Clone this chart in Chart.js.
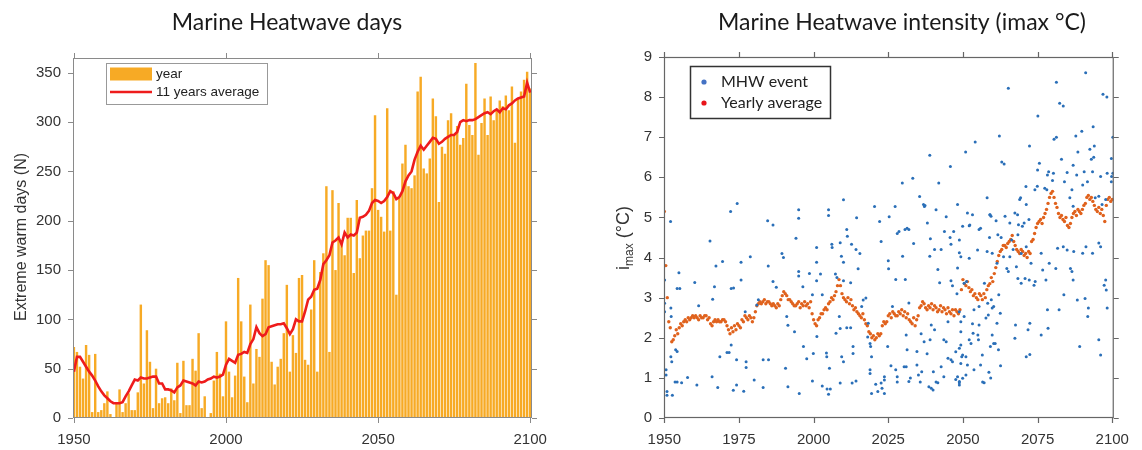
<!DOCTYPE html>
<html lang="en">
<head>
<meta charset="UTF-8">
<title>Marine Heatwave</title>
<script src="https://cdn.jsdelivr.net/npm/chart.js@4.4.0/dist/chart.umd.min.js"></script>
<style>
  html, body { margin: 0; padding: 0; background: #fff; }
  #wrap { position: relative; width: 1142px; height: 450px; }
  .panel { position: absolute; top: 0; height: 450px; }
  #left { left: 0; width: 570px; }
  #right { left: 570px; width: 572px; }
</style>
</head>
<body>
<div id="wrap">
  <div class="panel" id="left"><canvas id="cDays" width="570" height="450"></canvas></div>
  <div class="panel" id="right"><canvas id="cInt" width="572" height="450"></canvas></div>
</div>
<script>
// ---------- left panel: extreme warm days per year, 1950..2100 ----------
const firstYear = 1950;
const warmDays = [
  72, 67, 52, 40, 74, 64, 6, 65, 6, 8,
  15, 27, 4, 1, 16, 29, 6, 15, 25, 8,
  8, 26, 115, 35, 89, 57, 10, 50, 15, 20,
  21, 15, 30, 18, 56, 5, 58, 13, 13, 60,
  48, 86, 10, 22, 0, 5, 38, 67, 45, 22,
  98, 47, 21, 43, 142, 98, 42, 16, 115, 35,
  70, 62, 121, 160, 155, 57, 34, 52, 60, 86,
  135, 47, 84, 66, 142, 145, 59, 54, 110, 160,
  47, 148, 167, 235, 67, 231, 150, 218, 180, 165,
  203, 203, 147, 221, 162, 185, 190, 190, 233, 307,
  211, 204, 189, 314, 190, 230, 125, 223, 258, 277,
  235, 233, 246, 331, 346, 253, 248, 263, 324, 306,
  219, 275, 268, 302, 309, 287, 296, 277, 284, 339,
  297, 287, 360, 267, 299, 324, 287, 326, 302, 312,
  322, 316, 327, 312, 336, 279, 324, 331, 343, 351,
  334
];
const warmDaysAvg11 = [
  47, 62, 62, 57, 52, 47, 43, 38, 32, 27,
  23, 20, 17, 15, 15, 15, 16, 22, 27, 33,
  39, 38, 41, 40, 40, 41, 42, 42, 35, 35,
  29, 29, 28, 26, 31, 33, 38, 37, 36, 35,
  33, 37, 36, 37, 39, 40, 42, 41, 42, 44,
  54, 60, 58, 56, 64, 65, 67, 66, 75, 80,
  92, 86, 83, 85, 92, 93, 94, 95, 95, 96,
  91, 85, 90, 100, 98, 98, 108, 120, 123, 130,
  131, 140, 156, 160, 165, 178, 180, 183, 176, 188,
  183, 186, 185, 188, 203, 204, 206, 210, 218, 221,
  220, 218, 220, 224, 230, 228, 222, 224, 230, 240,
  246, 250, 262, 270, 276, 272, 276, 280, 284, 283,
  278, 280, 283, 285, 287, 287, 290, 300, 302, 301,
  302, 302, 303, 305, 307, 309, 310, 308, 311, 313,
  310, 314, 313, 317, 319, 322, 324, 325, 326, 340,
  330
];
const daysXTicks = [1950, 2000, 2050, 2100];
const daysYTicks = [0, 50, 100, 150, 200, 250, 300, 350];

// ---------- right panel: MHW intensity ----------
// individual events [year, imax]
const mhwEvents = [
  [1950.1,3.44],[1950.1,2.86],[1950.1,2.65],[1950.6,1.2],[1950.6,1.07],[1950.9,0.66],[1950.9,0.57],
  [1952.1,4.9],[1952.2,2.74],[1952.3,2.53],[1952.2,1.53],[1952.5,1.4],[1952.7,0.57],[1953.8,1.7],
  [1954.3,1.66],[1953.6,0.9],[1954.3,0.9],[1954.9,3.62],[1954.3,3.23],[1955.2,3.23],[1955.8,0.88],
  [1957.8,1.01],[1960.2,3.38],[1960.9,0.82],[1961.5,2.8],[1965.3,4.41],[1966.2,2.96],[1966,1.03],
  [1967.3,3.79],[1966.8,3.27],[1967.9,0.76],[1969.5,3.9],[1968.6,1.53],[1971,1.63],[1971.7,1.63],
  [1972.2,5.15],[1972.4,3.23],[1973.2,3.24],[1972.4,1.82],[1973.1,0.69],[1974.2,1.45],[1974.2,0.82],
  [1974.4,5.35],[1975.7,3.88],[1975.7,3.44],[1976.6,0.67],[1977.4,1.4],[1977.4,1.26],[1977.1,2.65],
  [1978.8,4.02],[1980.1,0.95],[1981,2.82],[1981.5,2.95],[1983.1,0.76],[1983.1,1.45],[1984.6,4.92],
  [1984.8,3.79],[1984.9,1.45],[1986.4,4.81],[1986.4,3.4],[1987.5,3.26],[1989.4,4.1],[1989.9,4.0],
  [1990.6,1.24],[1991,2.53],[1991.4,2.31],[1991.4,0.78],[1993.6,2.15],[1994.1,4.48],[1995,5.19],
  [1995,4.98],[1995,3.65],[1995,3.54],[1995.2,0.61],[1996.4,3.27],[1996.6,1.78],[1997.7,1.48],
  [1998.6,3.6],[1999.6,0.92],[1999.6,3.07],[1999.9,1.61],
  [2005.0,5.19],[2005.0,5.05],[2010.0,5.44],[2001.0,4.25],[2001.0,3.88],[2001.0,3.42],[2002.3,3.59],
  [2002.9,3.07],[2001.1,2.03],[2002.9,0.8],[2004.5,0.72],[2005.0,0.59],[2005.6,0.72],[2006.1,4.33],
  [2006.2,4.25],[2004.3,1.62],[2004.4,1.53],[2005.3,1.24],[2007.3,3.59],[2007.8,3.5],[2008.9,4.37],
  [2009.3,4.03],[2010.0,3.88],[2011.1,4.7],[2011.3,4.53],[2012.7,4.33],[2014.4,4.99],[2014.2,4.2],
  [2014.9,3.72],[2015.5,4.1],[2012.4,3.37],[2010.0,3.42],[2008.6,2.53],[2007.5,2.11],[2008.9,2.23],
  [2011.1,2.25],[2012.4,2.25],[2009.4,1.53],[2010.0,1.4],[2008.9,0.87],[2013.2,1.78],[2013.2,1.61],
  [2012.9,0.87],[2014.2,0.92],[2016.1,2.78],[2016.6,2.94],[2017.5,2.99],[2018.3,2.36],[2018.1,2.02],
  [2018.9,1.86],[2019.1,1.78],[2019.4,1.53],[2018.9,1.2],[2018.9,1.11],[2019.4,0.61],[2020.4,5.27],
  [2020.8,0.84],[2021.5,0.66],[2022.6,0.87],[2022.1,4.9],[2022.6,4.4],[2023.7,0.61],[2022.9,0.74],
  [2023.7,1.03],[2023.7,0.95],[2025.0,3.92],[2025.3,5.02],[2027.3,5.27],[2025.1,3.72],[2026.4,2.78],
  [2024.8,1.78],[2025.9,1.3],[2027.5,1.2],[2028.0,0.9],[2028.0,1.03],[2029.7,5.86],[2028.0,4.6],
  [2028.6,4.65],[2030.6,4.7],[2031.3,4.73],[2031.9,4.7],[2029.8,4.03],[2030.7,3.45],[2027.5,3.45],
  [2031.9,2.87],[2031.0,2.07],[2030.3,1.28],[2031.0,1.28],[2031.3,1.7],[2031.9,0.91],[2032.4,1.0],
  [2033.2,5.98],[2033.5,4.35],[2034.6,1.66],[2034.6,1.32],[2035.1,1.07],[2035.7,0.9],[2036.2,1.15],
  [2035.5,5.52],[2036.8,5.32],[2037.1,5.27],[2038.1,4.86],[2038.6,0.78],[2039.4,0.74],[2039.0,1.95],
  [2039.4,2.32],[2038.9,4.03],[2039.1,4.47],[2040.5,4.2],[2041.0,5.19],[2041.9,5.86],[2042.7,4.2],
  [2041.6,3.7],[2042.2,3.37],[2040.5,2.2],[2041.6,0.88],[2042.7,1.28],[2043.6,1.95],[2043.8,4.65],
  [2044.4,5.02],[2045.8,6.27],[2045.7,4.5],[2046.0,4.33],[2046.9,4.65],[2048.2,5.32],[2046.0,3.42],
  [2046.5,3.3],[2048.2,3.74],[2048.8,4.12],[2048.0,3.1],[2045.0,2.4],[2044.4,1.9],[2045.0,1.49],
  [2046.0,1.45],[2046.5,1.4],[2047.6,1.65],[2047.6,0.96],[2048.2,1.03],[2048.8,0.91],[2049.3,2.4],
  [2049.3,2.15],[2049.3,1.82],[2049.6,1.53],[2048.8,0.88],[2036.0,2.1],[2037.0,1.9],[2038.0,1.6],
  [2040.1,1.15],[2041.0,0.9],[2043.6,1.03],[2040.0,0.7],[2038.9,6.55],[2037.3,5.3],
  [2065.2,8.22],[2091.1,8.61],[2081.3,8.37],[2082.4,7.85],[2083.6,7.78],[2096.9,8.07],[2098.2,8.0],
  [2075.1,7.53],[2062.2,7.03],[2080.5,6.95],[2081.3,7.0],[2087.8,7.03],[2089.8,7.15],[2093.6,7.26],
  [2054.1,6.88],[2050.9,6.63],[2063.0,6.38],[2063.8,6.33],[2072.3,6.78],[2083.0,6.45],[2092.5,6.7],
  [2093.0,6.45],[2093.8,6.5],[2094.0,6.78],[2084.0,5.89],[2086.9,6.3],[2088.5,6.63],[2090.6,6.14],
  [2091.7,5.89],[2093.4,6.14],[2096.1,6.02],[2098.3,6.1],[2099.7,5.89],[2099.8,6.02],[2099.7,6.47],
  [2075.6,6.35],[2075.0,6.18],[2078.3,6.06],[2078.7,6.14],[2080.0,5.92],[2071.1,5.77],[2077.4,5.73],
  [2078.1,5.69],[2080.3,6.1],[2084.9,6.12],[2086.5,5.69],[2088.1,6.06],[2085.8,5.49],[2086.9,5.28],
  [2090.1,5.81],[2094.3,5.49],[2095.5,5.53],[2096.6,5.32],[2097.8,5.45],[2069.0,5.45],[2071.2,5.32],
  [2074.1,5.69],[2074.9,5.78],[2067.4,5.11],[2068.3,5.07],[2070.5,4.86],[2072.1,4.95],[2068.6,4.82],
  [2069.9,4.78],[2059.0,5.07],[2059.4,5.03],[2051.5,5.11],[2053.2,5.07],[2049.9,4.78],[2052.1,4.79],
  [2055.4,4.7],[2055.9,4.73],[2058.1,5.49],[2048.8,4.44],[2064.1,5.03],[2065.7,4.86],[2066.3,4.44],
  [2061.7,4.57],[2062.8,4.5],[2061.1,4.92],[2064.7,3.73],[2065.2,3.65],[2068.4,3.48],[2067.9,3.77],
  [2069.5,3.36],[2070.8,3.48],[2072.2,3.44],[2073.8,3.31],[2074.2,3.4],[2072.8,3.86],[2069.5,4.1],
  [2071.2,4.27],[2076.2,4.11],[2078.9,3.86],[2081.1,3.73],[2076.7,3.69],[2077.8,3.44],[2081.7,4.23],
  [2083.6,4.27],[2083.8,3.07],[2084.9,4.19],[2086.0,3.73],[2086.5,3.65],[2086.9,3.44],[2087.1,4.15],
  [2090.1,4.11],[2091.2,4.27],[2093.4,4.11],[2095.5,4.36],[2096.1,4.27],[2097.3,3.31],[2098.0,3.19],
  [2097.8,3.44],[2088.3,2.94],[2090.9,2.98],[2092.0,2.74],[2082.2,2.7],[2078.3,2.7],[2078.5,2.24],
  [2076.2,2.07],[2072.4,2.36],[2071.8,2.2],[2071.2,1.53],[2072.4,1.58],[2067.4,1.99],[2067.6,2.32],
  [2062.6,1.3],[2059.3,1.0],[2057.1,0.88],[2056.6,0.9],[2058.7,1.14],[2089.1,1.78],[2091.8,2.53],
  [2095.5,1.95],[2096.1,1.57],[2098.3,2.74],[2053.2,2.35],[2053.7,2.7],[2055.4,2.78],[2053.4,2.11],
  [2055.0,2.07],[2055.2,1.95],[2052.1,1.95],[2052.7,1.86],[2051.0,1.53],[2049.9,1.57],[2051.5,1.32],
  [2053.7,1.2],[2055.9,1.32],[2059.2,1.78],[2060.3,1.86],[2060.8,1.86],[2061.9,1.7],[2059.8,2.07],
  [2061.4,2.36],[2062.5,2.61],[2059.8,2.74],[2057.7,2.49],[2055.4,2.32],[2058.3,2.86],[2060.3,2.78],
  [2062.0,3.07],[2059.5,2.95],[2057.2,3.36],[2058.5,2.57],[2050.4,2.53],[2048.8,2.65],[2050.4,3.36],
  [2051.2,3.4],[2049.3,4.02],[2052.1,3.98],[2052.3,4.81],[2054.9,4.19],[2058.1,4.15],[2058.9,4.5],
  [2059.8,4.11],[2061.4,3.86],[2063.6,4.02],[2065.7,4.02],[2066.8,4.2],[2068.4,4.57],[2069.3,5.49],
  [2059.1,5.07],[2048.8,1.74],[2049.3,1.36],[2048.8,0.82],[2051.0,1.07],[2049.9,0.99],[2056.5,1.57],
  [2100.2,7.0],[2100.2,6.1]
];
// yearly average, two readings per year from 1950
const yearlyAvgStep = 0.5;
const yearlyAvg = [
  5.15,3.8, 3.0,2.4, 2.25,1.9, 1.95,2.05, 2.2,2.1,
  2.25,2.35, 2.3,2.4, 2.45,2.4, 2.5,2.45, 2.5,2.55,
  2.5,2.55, 2.5,2.45, 2.55,2.5, 2.5,2.55, 2.55,2.45,
  2.5,2.35, 2.3,2.4, 2.45,2.4, 2.45,2.4, 2.4,2.45,
  2.45,2.4, 2.3,2.2, 2.1,2.25, 2.15,2.3, 2.2,2.35,
  2.3,2.25, 2.45,2.4, 2.55,2.5, 2.45,2.55, 2.5,2.4,
  2.5,2.65, 2.8,2.85, 2.9,2.85, 2.9,2.95, 2.85,2.9,
  2.9,2.85, 2.8,2.85, 2.8,2.75, 2.85,2.8, 2.95,3.05,
  3.15,3.1, 3.05,2.95, 2.95,2.9, 2.85,2.8, 2.8,2.85,
  2.9,2.75, 2.85,2.8, 2.9,2.8, 2.85,2.75, 2.9,2.6,
  2.45,2.35, 2.3,2.45, 2.5,2.6, 2.6,2.7, 2.75,2.7,
  2.85,2.9, 3.0,2.95, 3.05,3.15, 3.3,3.45, 3.3,3.1,
  3.0,2.95, 2.9,3.0, 2.85,2.95, 2.8,2.7, 2.75,2.65,
  2.6,2.55, 2.5,2.6, 2.45,2.35, 2.3,2.15, 2.1,2.0,
  2.05,1.95, 2.0,2.1, 2.05,2.1, 2.3,2.4, 2.35,2.4,
  2.55,2.6, 2.5,2.65, 2.6,2.55, 2.55,2.65, 2.6,2.7,
  2.55,2.65, 2.5,2.6, 2.45,2.4, 2.35,2.5, 2.3,2.45,
  2.55,2.75, 2.8,2.9, 2.85,2.75, 2.7,2.8, 2.75,2.85,
  2.7,2.8, 2.75,2.65, 2.7,2.8, 2.65,2.75, 2.7,2.6,
  2.75,2.65, 2.6,2.7, 2.55,2.7, 2.65,2.6, 2.7,3.2,
  3.45,3.35, 3.3,3.4, 3.25,3.15, 3.2,3.05, 3.1,3.0,
  2.95,3.1, 3.05,2.95, 3.1,3.0, 3.2,3.3, 3.35,3.5,
  3.4,3.6, 3.75,3.9, 4.05,4.15, 4.2,4.3, 4.3,4.25,
  4.35,4.4, 4.45,4.55, 4.4,4.3, 4.2,4.15, 4.1,4.2,
  4.15,4.05, 4.1,4.0, 4.15,4.1, 4.4,4.45, 4.6,4.75,
  4.85,4.9, 4.95,4.85, 5.0,5.1, 5.2,5.35, 5.5,5.6,
  5.65,5.5, 5.35,5.25, 5.1,5.0, 5.05,4.95, 4.9,5.0,
  4.8,4.75, 4.85,5.0, 5.1,5.15, 5.05,5.2, 5.15,5.1,
  5.2,5.3, 5.35,5.5, 5.55,5.45, 5.5,5.4, 5.3,5.2,
  5.15,5.25, 5.1,5.2, 5.05,4.9, 5.3,5.45, 5.5,5.4,
  5.45
];
const intXTicks = [1950, 1975, 2000, 2025, 2050, 2075, 2100];
const intYTicks = [0, 1, 2, 3, 4, 5, 6, 7, 8, 9];

// ---------- helpers ----------
const tickFont = { family: 'Liberation Sans', size: 15 };
const tickColor = '#333';

// box around the plot with outward ticks on all four sides
const frame = {
  id: 'frame',
  afterDatasetsDraw(chart, args, o) {
    const { ctx, chartArea: a, scales: { x, y } } = chart;
    ctx.save();
    ctx.strokeStyle = o.color;
    ctx.lineWidth = o.width;
    ctx.strokeRect(a.left + 0.5, a.top + 0.5, a.width - 1, a.height - 1);
    ctx.beginPath();
    x.ticks.forEach(t => {
      const px = Math.round(x.getPixelForValue(t.value)) + 0.5;
      ctx.moveTo(px, a.bottom); ctx.lineTo(px, a.bottom + o.len);
      ctx.moveTo(px, a.top); ctx.lineTo(px, a.top - o.len);
    });
    y.ticks.forEach(t => {
      const py = Math.round(y.getPixelForValue(t.value)) + 0.5;
      ctx.moveTo(a.left, py); ctx.lineTo(a.left - o.len, py);
      ctx.moveTo(a.right, py); ctx.lineTo(a.right + o.len, py);
    });
    ctx.stroke();
    ctx.restore();
  }
};

// titles, y-axis title (with subscript parts) and an inside legend
const decor = {
  id: 'decor',
  afterDraw(chart, args, o) {
    const { ctx, chartArea: a } = chart;
    ctx.save();
    ctx.fillStyle = '#1a1a1a';
    ctx.textAlign = 'center';
    ctx.textBaseline = 'middle';
    ctx.font = o.titleFont;
    ctx.fillText(o.title, o.titleX, o.titleY);

    // rotated y title
    ctx.save();
    ctx.translate(o.yTitleX, o.yTitleY);
    ctx.rotate(-Math.PI / 2);
    ctx.textAlign = 'left';
    ctx.textBaseline = 'middle';
    ctx.fillStyle = '#333';
    let total = 0;
    o.yTitle.forEach(p => { ctx.font = p.size + 'px Liberation Sans'; total += ctx.measureText(p.text).width; });
    let cx = -total / 2;
    o.yTitle.forEach(p => {
      ctx.font = p.size + 'px Liberation Sans';
      ctx.fillText(p.text, cx, p.dy || 0);
      cx += ctx.measureText(p.text).width;
    });
    ctx.restore();

    // legend
    const L = o.legend;
    const bx = a.left + L.dx, by = a.top + L.dy;
    ctx.fillStyle = '#fff';
    ctx.fillRect(bx, by, L.w, L.h);
    ctx.strokeStyle = L.border;
    ctx.lineWidth = L.borderWidth;
    ctx.strokeRect(bx + 0.5, by + 0.5, L.w, L.h);
    ctx.textAlign = 'left';
    ctx.font = L.font;
    L.items.forEach((it, i) => {
      const cy = by + L.rowY[i];
      if (it.kind === 'rect') {
        ctx.fillStyle = it.color;
        ctx.fillRect(bx + L.markX, cy - 6.5, L.markW, 13);
      } else if (it.kind === 'line') {
        ctx.strokeStyle = it.color; ctx.lineWidth = 2.6;
        ctx.beginPath(); ctx.moveTo(bx + L.markX, cy); ctx.lineTo(bx + L.markX + L.markW, cy); ctx.stroke();
      } else {
        ctx.fillStyle = it.color;
        ctx.beginPath(); ctx.arc(bx + L.markX, cy, 2.6, 0, Math.PI * 2); ctx.fill();
      }
      ctx.fillStyle = '#222';
      ctx.fillText(it.text, bx + L.textX, cy);
    });
    ctx.restore();
  }
};

function fixTicks(list) {
  return s => { s.ticks = list.map(v => ({ value: v })); };
}
const plainLabel = v => String(v);

// ---------- left chart ----------
const years = warmDays.map((_, i) => firstYear + i);

new Chart(document.getElementById('cDays'), {
  type: 'bar',
  data: {
    datasets: [
      {
        type: 'line',
        label: '11 years average',
        data: years.map((yr, i) => ({ x: yr, y: warmDaysAvg11[i] })),
        borderColor: '#ee1c1c',
        borderWidth: 2.6,
        pointRadius: 0,
        tension: 0,
        order: 0
      },
      {
        type: 'bar',
        label: 'year',
        data: years.map((yr, i) => ({ x: yr, y: warmDays[i] })),
        backgroundColor: '#f7aa25',
        borderWidth: 0,
        barPercentage: 0.8,
        categoryPercentage: 1,
        order: 1
      }
    ]
  },
  options: {
    responsive: false,
    animation: false,
    layout: { padding: { left: 0, right: 38, top: 58, bottom: 0 } },
    plugins: {
      legend: { display: false },
      tooltip: { enabled: false },
      frame: { color: '#8a8a8a', width: 1, len: 5 },
      decor: {
        title: 'Marine Heatwave days',
        titleFont: '23px Lato',
        titleX: 287, titleY: 23,
        yTitleX: 22, yTitleY: 237,
        yTitle: [{ text: 'Extreme warm days (N)', size: 16 }],
        legend: {
          dx: 33, dy: 5, w: 161, h: 41, border: '#999', borderWidth: 1,
          font: '13.5px Liberation Sans', markX: 4, markW: 42, textX: 50, rowY: [11, 29],
          items: [
            { kind: 'rect', color: '#f7aa25', text: 'year' },
            { kind: 'line', color: '#ee1c1c', text: '11 years average' }
          ]
        }
      }
    },
    scales: {
      x: {
        type: 'linear', min: 1949.7, max: 2100.6, offset: false,
        afterBuildTicks: fixTicks(daysXTicks),
        afterFit: s => { s.height = 32; },
        grid: { display: false, drawTicks: false },
        border: { display: false },
        ticks: { font: tickFont, color: tickColor, padding: 13, maxRotation: 0, autoSkip: false, callback: plainLabel }
      },
      y: {
        min: 0, max: 365,
        afterBuildTicks: fixTicks(daysYTicks),
        afterFit: s => { s.width = 73; },
        grid: { display: false, drawTicks: false },
        border: { display: false },
        ticks: { font: tickFont, color: tickColor, padding: 12 }
      }
    }
  },
  plugins: [frame, decor]
});

// ---------- right chart ----------
new Chart(document.getElementById('cInt'), {
  type: 'scatter',
  data: {
    datasets: [
      {
        label: 'MHW event',
        data: mhwEvents.map(p => ({ x: p[0], y: p[1] })),
        backgroundColor: '#2a6fb8',
        borderWidth: 0,
        pointRadius: 1.5
      },
      {
        label: 'Yearly average',
        data: yearlyAvg.map((v, i) => ({ x: firstYear + i * yearlyAvgStep, y: v })),
        backgroundColor: '#e0621d',
        borderWidth: 0,
        pointRadius: 1.7
      }
    ]
  },
  options: {
    responsive: false,
    animation: false,
    layout: { padding: { left: 0, right: 21, top: 57, bottom: 0 } },
    plugins: {
      legend: { display: false },
      tooltip: { enabled: false },
      frame: { color: '#666', width: 1.2, len: 5 },
      decor: {
        title: 'Marine Heatwave intensity (imax °C)',
        titleFont: '23px Lato',
        titleX: 332, titleY: 23,
        yTitleX: 54, yTitleY: 238,
        yTitle: [
          { text: 'i', size: 18 },
          { text: 'max', size: 12, dy: 6 },
          { text: ' (°C)', size: 18 }
        ],
        legend: {
          dx: 26, dy: 9, w: 140, h: 52, border: '#333', borderWidth: 1.5,
          font: '16px Lato', markX: 14, markW: 0, textX: 31, rowY: [16, 37],
          items: [
            { kind: 'dot', color: '#4472c4', text: 'MHW event' },
            { kind: 'dot', color: '#e8141a', text: 'Yearly average' }
          ]
        }
      }
    },
    scales: {
      x: {
        type: 'linear', min: 1949.9, max: 2100.5,
        afterBuildTicks: fixTicks(intXTicks),
        afterFit: s => { s.height = 32; },
        grid: { display: false, drawTicks: false },
        border: { display: false },
        ticks: { font: tickFont, color: tickColor, padding: 13, maxRotation: 0, autoSkip: false, callback: plainLabel }
      },
      y: {
        min: 0, max: 9,
        afterBuildTicks: fixTicks(intYTicks),
        afterFit: s => { s.width = 94; },
        grid: { display: false, drawTicks: false },
        border: { display: false },
        ticks: { font: tickFont, color: tickColor, padding: 12 }
      }
    }
  },
  plugins: [frame, decor]
});
</script>
</body>
</html>
